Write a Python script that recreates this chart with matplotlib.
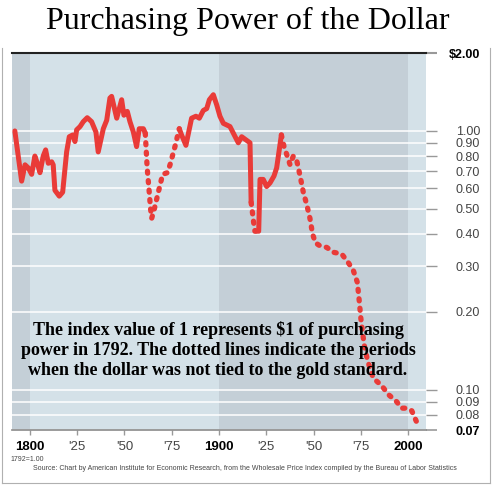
import matplotlib
matplotlib.use("Agg")
import matplotlib.pyplot as plt
from matplotlib.ticker import NullLocator
from matplotlib.lines import Line2D

# index of purchasing power, 1792 = 1.00
years = [1792, 1795.6, 1797.4, 1799.1, 1800.9, 1802.6, 1803.9, 1805.3, 1807, 1808.3,
         1809.7, 1811.5, 1812.3, 1813.2, 1815.5, 1817.3, 1819.4, 1820.8, 1822.6, 1823.8,
         1824.7, 1826.5, 1828.2, 1830.3, 1832.6, 1834.9, 1836.1, 1838.8, 1840.6, 1842.3,
         1843.2, 1845.9, 1848.5, 1849.7, 1851.5, 1852.9, 1854.7, 1856.4, 1857.8, 1860,
         1861, 1862, 1863.1, 1863.8, 1864.4, 1865.8, 1867.9, 1870.2, 1872.7, 1874.1,
         1876.7, 1879, 1880.2, 1882.5, 1885.5, 1887.8, 1889.6, 1891.7, 1893.5, 1894.9,
         1897, 1898.8, 1900.5, 1902.3, 1905.8, 1907.6, 1910.2, 1912, 1914.6, 1916.4,
         1917, 1917.6, 1918.2, 1919, 1921, 1921.7, 1923.4, 1925.2, 1927, 1929.1,
         1930.5, 1933, 1934.4, 1936.1, 1937.6, 1939.3, 1941.1, 1942.9, 1944.6, 1946.4,
         1948.1, 1949.5, 1951, 1953.4, 1957, 1960.5, 1964.9, 1968.4, 1971, 1973.2,
         1974.2, 1975, 1976, 1977.2, 1979, 1981.6, 1986, 1989.6, 1994, 1996.6,
         1999.3, 2002, 2004.6]
values = [1.00, 0.64, 0.74, 0.72, 0.68, 0.80, 0.75, 0.69, 0.80, 0.845,
          0.75, 0.76, 0.74, 0.59, 0.56, 0.58, 0.83, 0.95, 0.965, 0.91,
          1.01, 1.04, 1.086, 1.125, 1.086, 0.99, 0.83, 1.02, 1.10, 1.34,
          1.36, 1.12, 1.32, 1.15, 1.19, 1.086, 0.99, 0.87, 1.02, 1.02,
          0.98, 0.72, 0.58, 0.50, 0.46, 0.50, 0.58, 0.68, 0.69, 0.74,
          0.87, 1.02, 0.965, 0.88, 1.12, 1.14, 1.12, 1.20, 1.22, 1.32,
          1.38, 1.26, 1.14, 1.07, 1.04, 0.98, 0.90, 0.95, 0.92, 0.90,
          0.53, 0.49, 0.45, 0.41, 0.41, 0.65, 0.65, 0.61, 0.63, 0.67,
          0.72, 0.965, 0.87, 0.80, 0.74, 0.80, 0.77, 0.67, 0.58, 0.52,
          0.46, 0.40, 0.37, 0.36, 0.355, 0.34, 0.335, 0.31, 0.29, 0.26,
          0.22, 0.19, 0.165, 0.143, 0.127, 0.111, 0.104, 0.096, 0.090, 0.085,
          0.085, 0.083, 0.075]

# years where the dollar went off / back on the gold standard
gold_breaks = [1861, 1879, 1917, 1921, 1933]

x_ticks = [1800, 1825, 1850, 1875, 1900, 1925, 1950, 1975, 2000]
x_labels = ["1800", "'25", "'50", "'75", "1900", "'25", "'50", "'75", "2000"]
y_ticks = [2.0, 1.0, 0.9, 0.8, 0.7, 0.6, 0.5, 0.4, 0.3, 0.2, 0.1, 0.09, 0.08, 0.07]
y_labels = ["$2.00", "1.00", "0.90", "0.80", "0.70", "0.60", "0.50", "0.40", "0.30",
            "0.20", "0.10", "0.09", "0.08", "0.07"]

light = "#d4e1e8"
dark = "#c4cfd7"
red = "#e93b38"
W, H = 495, 486

fig = plt.figure(figsize=(4.95, 4.86), dpi=100)
ax = fig.add_axes([12 / W, 1 - 430 / H, (426 - 12) / W, (430 - 53) / H])
ax.set_yscale("log")
ax.set_xlim(1790.5, 2009.5)
ax.set_ylim(0.07, 2.0)
ax.set_facecolor(light)
ax.axvspan(1790.5, 1800, color=dark, lw=0, zorder=0)
ax.axvspan(1900, 2000, color=dark, lw=0, zorder=0)
ax.set_axisbelow(True)
ax.yaxis.grid(True, color="white", lw=1.1)

# solid while on gold, dotted while off
edges = [years[0]] + gold_breaks + [years[-1]]
for i in range(len(edges) - 1):
    xs = [y for y in years if edges[i] <= y <= edges[i + 1]]
    vs = [v for y, v in zip(years, values) if edges[i] <= y <= edges[i + 1]]
    if i % 2 == 0:
        ax.plot(xs, vs, color=red, lw=3.6, solid_capstyle="round",
                solid_joinstyle="round", zorder=3)
    else:
        ax.plot(xs, vs, color=red, lw=3.8, linestyle=(0, (0.4, 1.4)),
                dash_capstyle="round", zorder=3)

for s in ["left", "right"]:
    ax.spines[s].set_visible(False)
ax.spines["top"].set_color("#222222")
ax.spines["top"].set_linewidth(1.5)
ax.spines["bottom"].set_color("#8a8a8a")
ax.spines["bottom"].set_linewidth(1.2)

ax.yaxis.tick_right()
ax.set_yticks(y_ticks)
ax.set_yticklabels(y_labels)
ax.yaxis.set_minor_locator(NullLocator())
ax.tick_params(axis="y", direction="out", length=7.6, width=1.0, color="#999999",
               pad=31.3, labelsize=9, labelcolor="#444444")
for lab in ax.get_yticklabels():
    lab.set_ha("right")
    lab.set_family("Liberation Sans")
yt = ax.yaxis.get_major_ticks()
yt[0].tick2line.set_color("#222222")
yt[0].tick2line.set_markeredgewidth(1.5)
yt[-1].tick2line.set_color("#8a8a8a")
yt[-1].tick2line.set_markeredgewidth(1.2)
for idx in [0, len(y_ticks) - 1]:
    lab = ax.get_yticklabels()[idx]
    lab.set_weight("bold")
    lab.set_color("black")

ax.set_xticks(x_ticks)
ax.set_xticklabels(x_labels)
ax.tick_params(axis="x", direction="out", length=3.6, width=1.0, color="#999999",
               pad=4, labelsize=9.5, labelcolor="#444444")
for lab in ax.get_xticklabels():
    lab.set_family("Liberation Sans")
    if not lab.get_text().startswith("'"):
        lab.set_weight("bold")
        lab.set_color("black")

fig.text(0.5, 1 - 29 / H, "Purchasing Power of the Dollar", family="Liberation Serif",
         fontsize=23, ha="center", va="baseline")
fig.text(218 / W, 1 - 350 / H,
         "The index value of 1 represents $1 of purchasing\n"
         "power in 1792. The dotted lines indicate the periods\n"
         "when the dollar was not tied to the gold standard.",
         family="Liberation Serif", weight="bold", fontsize=13, ha="center",
         va="center", multialignment="center", linespacing=1.2, zorder=5)
fig.text(10 / W, 1 - 459 / H, "1792=1.00", family="Liberation Sans", fontsize=5,
         color="#444444", va="center")
fig.text(33 / W, 1 - 468 / H,
         "Source: Chart by American Institute for Economic Research, from the Wholesale "
         "Price Index compiled by the Bureau of Labor Statistics",
         family="Liberation Sans", fontsize=5, color="#444444", va="center")

# frame around chart area
frame = "#b0b0b0"
fig.add_artist(Line2D([2 / W, 2 / W], [1 - 48 / H, 1 - 483 / H], color=frame, lw=0.8))
fig.add_artist(Line2D([490 / W, 490 / W], [1 - 48 / H, 1 - 483 / H], color=frame, lw=0.8))
fig.add_artist(Line2D([2 / W, 490 / W], [1 - 483 / H, 1 - 483 / H], color=frame, lw=0.8))

fig.savefig("out.png", dpi=100)
